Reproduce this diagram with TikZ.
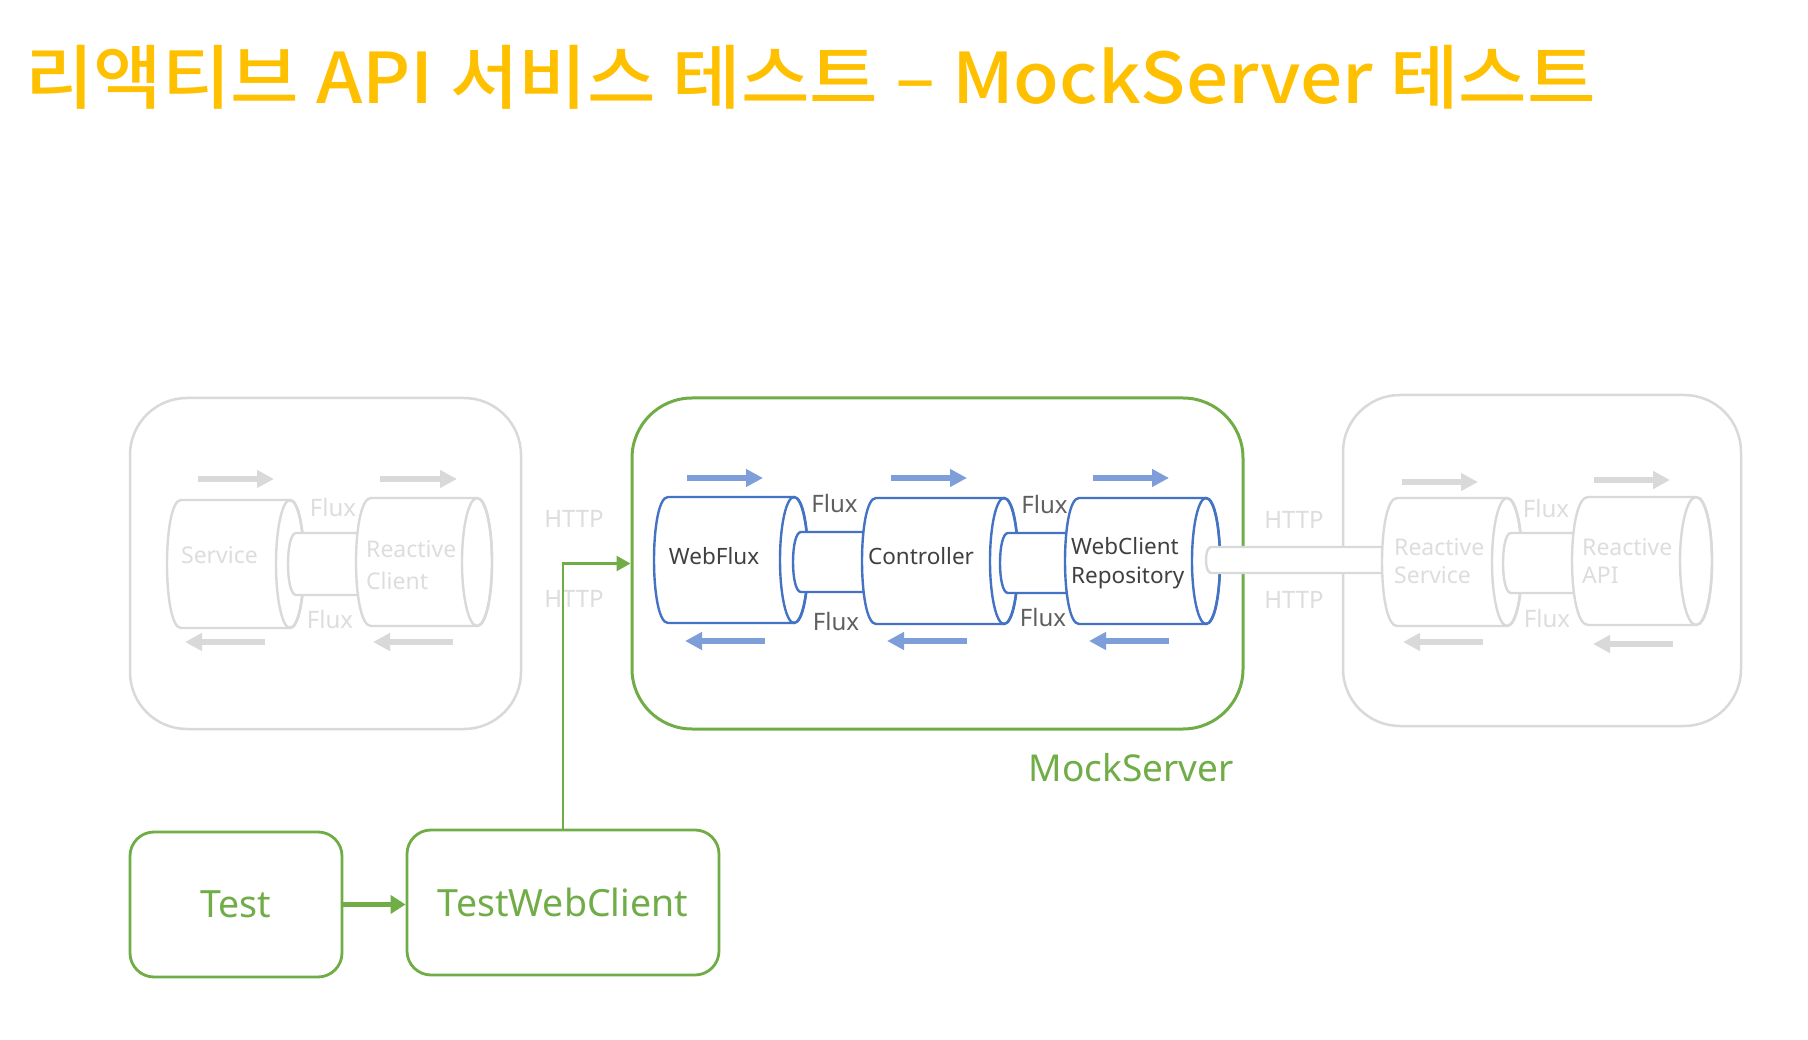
\documentclass[tikz,border=0pt]{standalone}
\usepackage{fontspec}
\setmainfont{Noto Sans}
\newfontfamily\kr{Noto Sans CJK KR Medium}
\usetikzlibrary{arrows.meta}
\definecolor{titlec}{HTML}{FFC000}
\definecolor{grn}{HTML}{70AD47}
\definecolor{blu}{HTML}{4472C4}
\definecolor{blarrow}{HTML}{7E9EDA}
\definecolor{lgray}{HTML}{D9D9D9}
\definecolor{lgtext}{HTML}{DDDDDD}
\definecolor{dtext}{HTML}{404040}
\definecolor{mtext}{HTML}{5F5F5F}
% #1 left centre x, #2 right centre x, #3 centre y, #4 rx, #5 ry, #6 style
\newcommand\mycyl[6]{%
  \path[#6] (#1,#3-#5) -- (#2,#3-#5)
    .. controls (#2+1.3333*#4,#3-#5) and (#2+1.3333*#4,#3+#5) .. (#2,#3+#5)
    -- (#1,#3+#5)
    .. controls (#1-1.3333*#4,#3+#5) and (#1-1.3333*#4,#3-#5) .. (#1,#3-#5) -- cycle;
  \path[#6,fill=none] (#2,#3) ellipse [x radius=#4, y radius=#5];
}
\begin{document}
\begin{tikzpicture}[x=1pt,y=-1pt,
  graybox/.style={draw=lgray, line width=2.5pt, rounded corners=57pt, inner sep=0pt},
  greenbox/.style={draw=grn, line width=3pt, rounded corners=60pt, inner sep=0pt},
  smallbox/.style={draw=grn, line width=2.8pt, rounded corners=24pt, inner sep=0pt, text=grn, font=\fontsize{37.5}{42}\selectfont},
  bcyl/.style={draw=blu, fill=white, line width=2.4pt},
  gcyl/.style={draw=lgray, fill=white, line width=2.4pt},
  dlabel/.style={text=dtext, font=\fontsize{22.5}{26}\selectfont, inner sep=0pt},
  glabel/.style={text=lgtext, font=\fontsize{23}{26}\selectfont, inner sep=0pt},
  dflux/.style={text=mtext, font=\fontsize{24}{28}\selectfont, inner sep=0pt, anchor=base},
  gflux/.style={text=lgtext, font=\fontsize{24}{28}\selectfont, inner sep=0pt, anchor=base},
  http/.style={text=lgtext, font=\fontsize{24}{28}\selectfont, inner sep=0pt, anchor=base},
  barrow/.style={draw=blarrow, line width=6pt, -{Triangle[length=17pt,width=17pt]}},
  garrow/.style={draw=lgray, line width=6pt, -{Triangle[length=17pt,width=17pt]}},
  conn/.style={draw=grn, line width=2.5pt, -{Triangle[length=14pt,width=15pt]}},
]
\useasboundingbox[fill=white] (0,0) rectangle (1808,1040);

% title
\node[anchor=base west, text=titlec, inner sep=0pt,
  font=\kr\fontsize{70}{80}\selectfont] (title) at (25,104)
  {\scalebox{1.064}[1]{리액티브 API 서비스 테스트 – MockServer 테스트}};

% containers
\node[graybox, minimum width=391pt, minimum height=331pt] (leftbox) at (325.5,563.5) {};
\node[greenbox, minimum width=611pt, minimum height=331pt] (mock) at (937.5,563.5) {};
\node[graybox, minimum width=398pt, minimum height=331pt] (rightbox) at (1542,560.5) {};
\node[anchor=base, text=grn, inner sep=0pt, font=\fontsize{37}{42}\selectfont] (mocklabel) at (1131,781) {MockServer};

\node[smallbox, minimum width=212pt, minimum height=145pt] (test) at (236,904.5) {Test};
\node[smallbox, minimum width=312pt, minimum height=145pt] (twc) at (563,902.5) {TestWebClient};

% left box cylinders
\mycyl{181}{290}{564}{14}{64}{gcyl}
\mycyl{296}{385}{564}{8}{31}{gcyl}
\mycyl{371}{477}{562}{15}{64}{gcyl}

% MockServer cylinders
\mycyl{668}{794}{560}{14}{63}{bcyl}
\mycyl{801}{890}{562}{8}{30}{bcyl}
\mycyl{876}{1004}{561}{14}{63}{bcyl}
\mycyl{1008}{1090}{563}{8}{30}{bcyl}
\mycyl{1079}{1206}{561}{14}{63}{bcyl}

% HTTP pipe
\mycyl{1211}{1400}{560}{5}{13}{gcyl}

% right box cylinders
\mycyl{1397}{1507}{562}{15}{64}{gcyl}
\mycyl{1511}{1595}{563}{8}{30}{gcyl}
\mycyl{1588}{1696}{561}{16}{64}{gcyl}

% labels in cylinders
\node[glabel, anchor=base] (service) at (219.5,563) {Service};
\node[glabel, anchor=base west] (rclient1) at (366,557) {Reactive};
\node[glabel, anchor=base west] (rclient2) at (366,589) {Client};

\node[dlabel, anchor=base] (webflux) at (714,564) {WebFlux};
\node[dlabel, anchor=base] (controller) at (921,564) {Controller};
\node[dlabel, anchor=base west] (repo1) at (1071,554) {WebClient};
\node[dlabel, anchor=base west] (repo2) at (1071,583) {Repository};

\node[glabel, anchor=base west] (rservice1) at (1394,555) {Reactive};
\node[glabel, anchor=base west] (rservice2) at (1394,583) {Service};
\node[glabel, anchor=base west] (rapi1) at (1582,555) {Reactive};
\node[glabel, anchor=base west] (rapi2) at (1582,583) {API};

% Flux labels
\node[gflux] (lf1) at (333,516) {Flux};
\node[gflux] (lf2) at (330,628) {Flux};
\node[dflux] (mf1) at (834.5,512) {Flux};
\node[dflux] (mf2) at (836,630) {Flux};
\node[dflux] (mf3) at (1044.5,513) {Flux};
\node[dflux] (mf4) at (1043,626) {Flux};
\node[gflux] (rf1) at (1546,517) {Flux};
\node[gflux] (rf2) at (1547,627) {Flux};

% HTTP labels
\node[http] (h1) at (574,527) {HTTP};
\node[http] (h2) at (574,607) {HTTP};
\node[http] (h3) at (1294,529) {HTTP};
\node[http] (h4) at (1294,608) {HTTP};

% flow arrows
\draw[garrow] (198,479) -- (274,479);
\draw[garrow] (380,479) -- (457,479);
\draw[garrow] (265,642) -- (185,642);
\draw[garrow] (453,642) -- (373,642);

\draw[barrow] (687,478) -- (763,478);
\draw[barrow] (891,478) -- (967,478);
\draw[barrow] (1093,478) -- (1169,478);
\draw[barrow] (765,641) -- (685,641);
\draw[barrow] (967,641) -- (887,641);
\draw[barrow] (1169,641) -- (1089,641);

\draw[garrow] (1402,482) -- (1478,482);
\draw[garrow] (1594,480) -- (1670,480);
\draw[garrow] (1483,642) -- (1403,642);
\draw[garrow] (1673,644) -- (1593,644);

% connectors
\draw[conn] (twc.north) |- (mock.west);
\draw[conn, line width=4.5pt, -{Triangle[length=15pt,width=18pt]}] (test.east) -- (test.east -| twc.west);
\end{tikzpicture}
\end{document}
